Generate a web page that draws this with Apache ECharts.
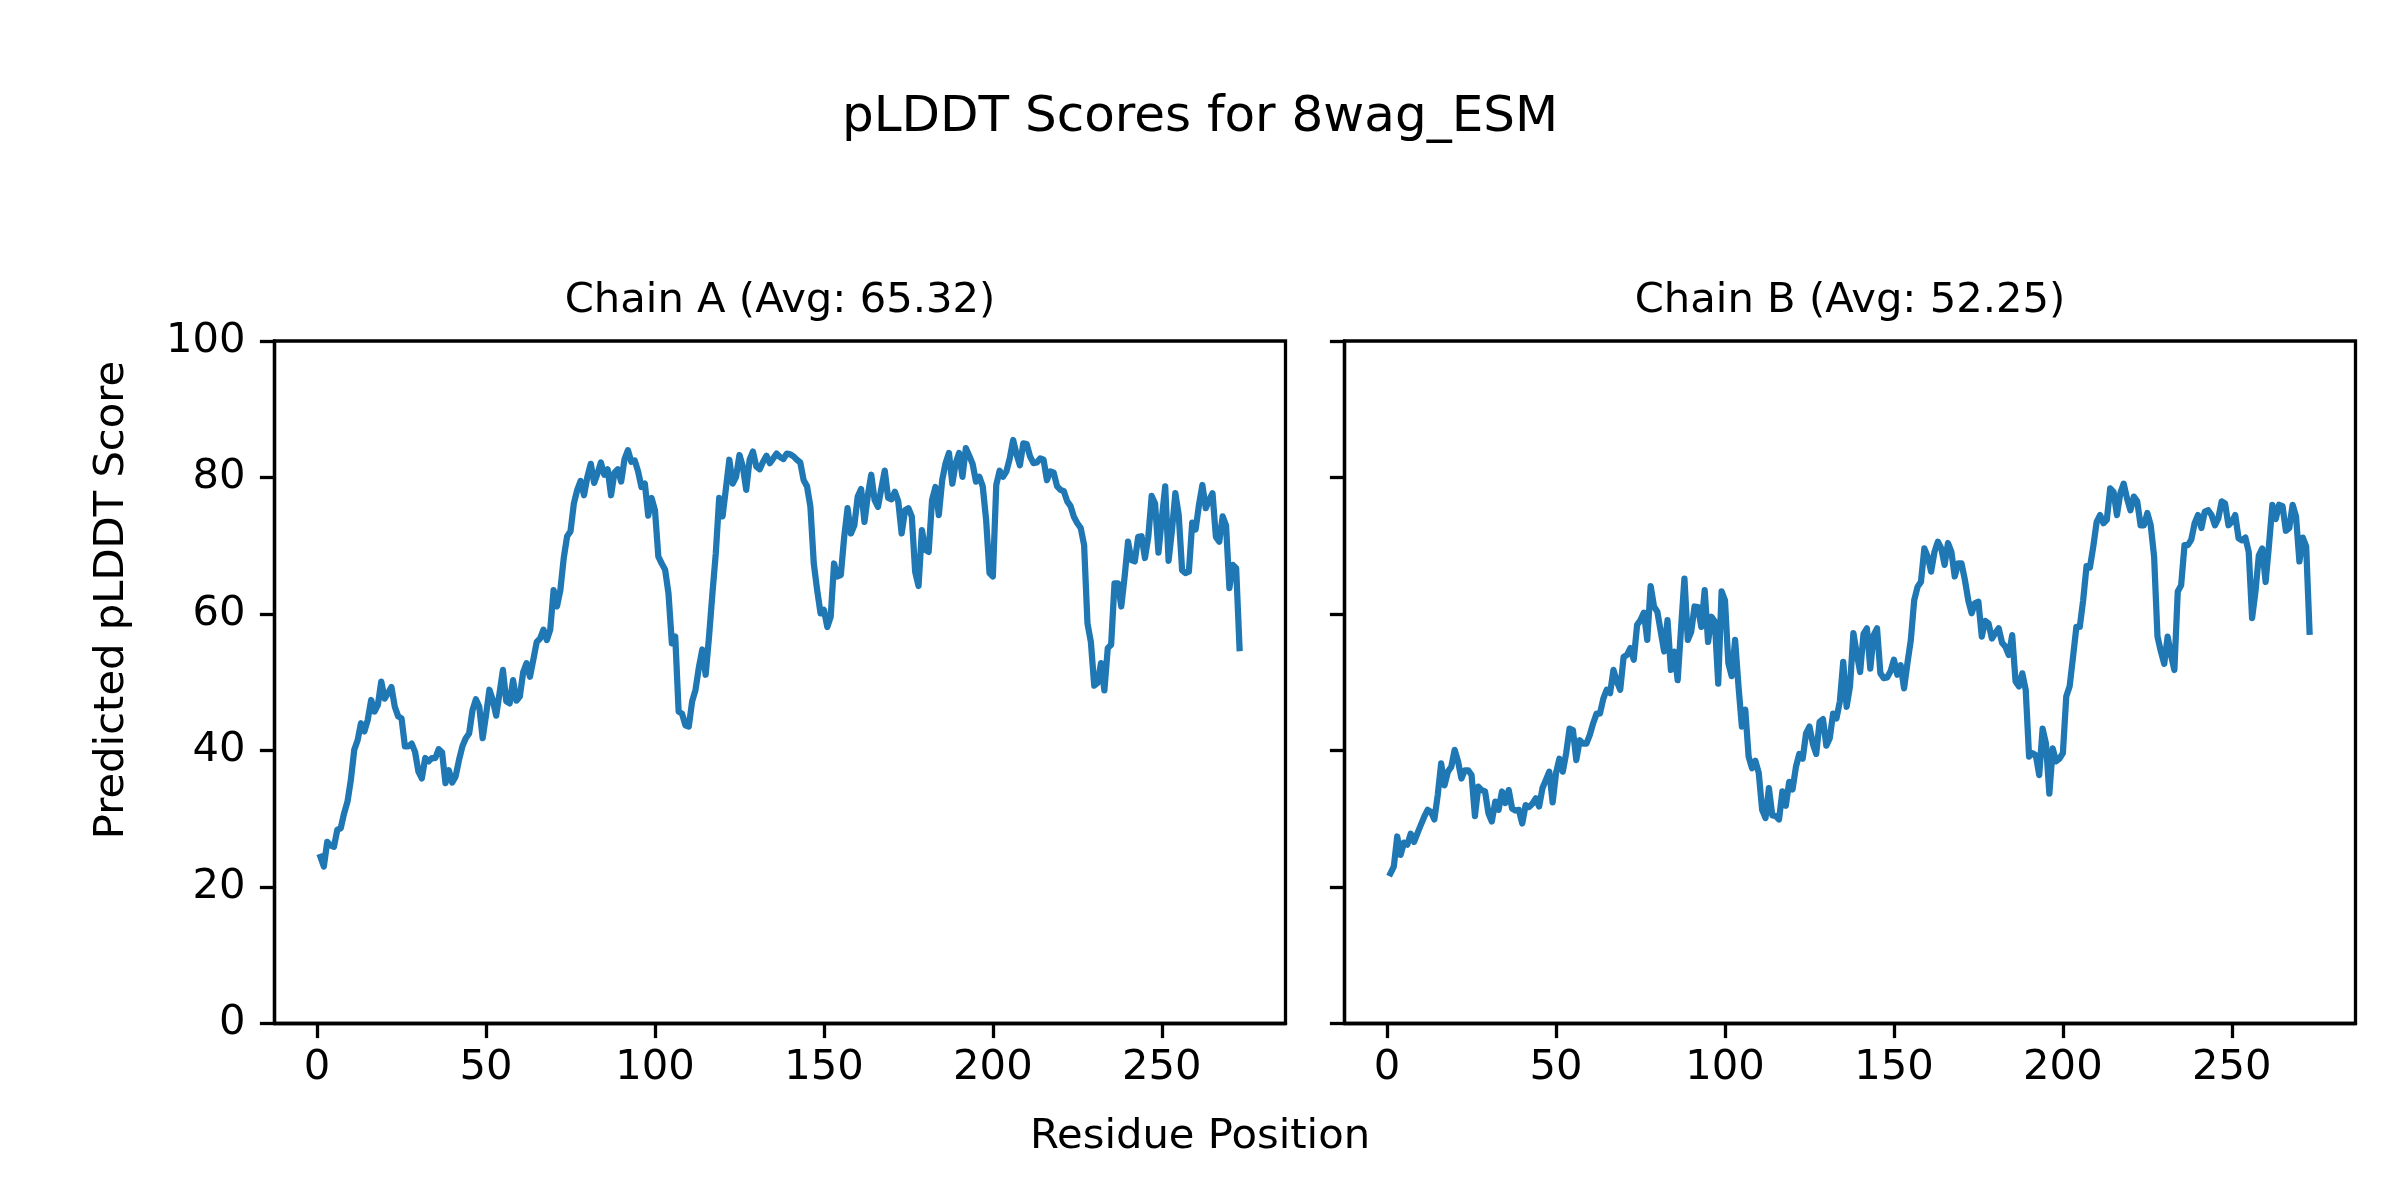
<!DOCTYPE html>
<html><head><meta charset="utf-8">
<script src="https://cdn.jsdelivr.net/npm/echarts@6/dist/echarts.min.js"></script>
<style>html,body{margin:0;padding:0;background:#fff}#chart{width:2400px;height:1200px}</style>
</head><body><div id="chart"></div>
<script>
const mainTitle = 'pLDDT Scores for 8wag_ESM';
const chainATitle = 'Chain A (Avg: 65.32)';
const chainBTitle = 'Chain B (Avg: 52.25)';
const xLabel = 'Residue Position';
const yLabel = 'Predicted pLDDT Score';
const xTickValues = [0, 50, 100, 150, 200, 250];
const yTickValues = [0, 20, 40, 60, 80, 100];

const chainA = [
24.4,23.0,26.6,26.1,25.9,28.4,28.6,30.8,32.5,35.7,
40.1,41.5,44.0,42.8,44.5,47.4,45.7,46.7,50.1,47.6,
48.4,49.3,46.4,45.0,44.7,40.6,40.6,41.0,39.8,36.9,
35.9,38.9,38.4,38.9,38.9,40.2,39.7,35.2,37.1,35.3,
36.2,38.6,40.6,41.8,42.5,45.9,47.5,46.4,41.8,45.2,
48.9,47.4,45.1,48.4,51.8,47.2,46.9,50.3,47.3,47.9,
51.5,52.8,50.8,53.3,55.9,56.4,57.7,56.2,57.7,63.5,
61.1,63.5,68.2,71.4,72.1,76.2,78.2,79.5,77.4,80.1,
82.0,79.2,80.6,82.2,80.4,81.2,77.4,80.7,81.2,79.4,
82.7,84.0,82.3,82.5,80.9,78.6,79.1,74.4,77.0,75.2,
68.4,67.4,66.5,63.0,55.7,56.7,45.7,45.4,43.7,43.5,
47.2,48.9,52.2,54.8,51.1,56.7,63.0,68.9,77.0,74.3,
78.4,82.6,79.1,80.1,83.3,81.6,78.2,82.6,83.8,81.6,
81.2,82.3,83.2,82.1,82.8,83.5,83.0,82.7,83.5,83.4,
83.1,82.6,82.2,79.6,78.7,75.7,67.4,63.5,60.1,60.6,
58.1,59.6,67.4,65.5,65.7,71.3,75.5,71.8,73.0,77.2,
78.3,73.5,77.4,80.4,76.7,75.7,78.4,81.0,77.0,76.8,
77.9,76.5,71.8,75.2,75.5,74.3,66.2,64.1,72.3,69.4,
69.1,76.7,78.6,74.5,79.6,82.1,83.6,79.1,82.1,83.6,
80.1,84.3,83.2,82.0,79.4,80.1,78.7,73.8,66.0,65.5,
78.9,81.0,80.1,80.9,82.8,85.5,83.4,81.8,85.0,84.9,
83.1,82.1,82.2,82.8,82.6,79.6,80.9,80.7,78.7,78.2,
78.0,76.5,75.8,74.2,73.3,72.6,70.1,58.6,55.9,49.5,
49.9,52.8,48.8,55.0,55.5,64.5,64.5,61.1,65.5,70.6,
67.9,67.7,71.3,71.4,68.2,71.3,77.3,76.2,69.0,74.0,
78.7,67.8,72.3,77.7,74.5,66.4,66.0,66.2,73.4,72.4,
76.0,78.9,75.5,76.7,77.7,71.3,70.6,74.3,73.0,63.8,
67.2,66.7,55.0
];

const chainB = [
22.0,23.0,27.4,24.7,26.5,26.2,27.8,26.6,27.9,29.1,
30.3,31.3,31.0,29.9,33.5,38.1,34.9,36.9,37.6,40.1,
38.4,35.9,37.1,37.1,36.4,30.4,34.7,34.2,34.0,30.8,
29.6,32.5,31.3,34.0,32.3,34.2,31.5,31.2,31.3,29.3,
32.0,31.7,32.2,33.0,31.8,34.5,35.7,36.9,32.4,36.7,
38.8,36.9,39.6,43.2,43.0,38.6,41.5,41.0,41.0,42.3,
44.0,45.4,45.4,47.6,48.9,48.4,51.8,50.1,48.9,53.7,
54.0,55.0,53.3,58.4,59.1,60.2,56.2,64.1,61.1,60.3,
57.4,54.5,59.1,51.8,54.5,50.3,57.9,65.2,56.2,57.4,
61.1,61.0,58.1,63.5,55.9,59.6,58.9,49.8,63.3,62.0,
52.8,50.9,56.2,49.4,43.5,46.0,39.1,37.4,38.5,36.7,
31.3,30.1,34.5,30.5,30.4,29.9,34.0,31.9,35.4,34.3,
37.6,39.5,38.8,42.5,43.5,41.0,39.5,44.2,44.6,40.7,
41.8,45.4,44.7,47.2,53.0,46.4,49.4,57.2,54.2,51.5,
57.1,57.9,52.0,56.9,57.9,51.3,50.6,50.7,51.6,53.3,
51.1,52.5,49.1,52.8,56.2,62.0,64.0,64.7,69.6,68.4,
66.2,69.1,70.6,69.6,67.2,70.4,69.1,65.5,67.4,67.4,
65.0,62.0,60.1,61.6,61.8,56.7,59.0,58.6,56.4,57.2,
57.9,55.8,55.2,54.0,56.9,50.1,49.4,51.3,48.9,39.1,
39.6,39.3,36.4,43.2,41.0,33.7,40.3,38.4,38.8,39.6,
47.9,49.4,53.7,58.1,58.1,62.0,67.0,66.8,69.9,73.5,
74.5,73.3,73.8,78.4,77.9,74.5,77.7,79.1,76.9,75.2,
77.2,76.5,73.0,73.0,74.8,73.0,68.4,56.7,54.5,52.7,
56.7,54.0,51.8,63.3,64.2,70.1,70.1,70.9,73.3,74.5,
72.6,75.0,75.2,74.5,73.0,74.0,76.5,76.2,73.0,73.5,
74.5,71.1,70.8,71.2,69.1,59.4,63.3,68.6,69.6,64.7,
70.1,76.0,73.9,76.0,75.8,72.2,72.6,76.0,74.3,67.7,
71.2,69.9,57.4
];

function toPoints(values) {
  return values.map(function (v, i) { return [i + 1, v]; });
}

const FONT = 'DejaVu Sans';
const BLACK = '#000000';
const LINE_COLOR = '#1f77b4';

function makeX(gridIndex) {
  return {
    type: 'value', gridIndex: gridIndex, min: -12.6, max: 286.6,
    splitLine: { show: false },
    axisLine: { show: true, onZero: false, lineStyle: { color: BLACK, width: 3.3 } },
    axisTick: { show: true, length: 14.6, customValues: xTickValues, lineStyle: { color: BLACK, width: 3.3 } },
    axisLabel: { show: true, customValues: xTickValues, margin: 24, color: BLACK, fontFamily: FONT, fontSize: 41.7 }
  };
}
function makeY(gridIndex, showLabels) {
  return {
    type: 'value', gridIndex: gridIndex, min: 0, max: 100, interval: 20,
    splitLine: { show: false },
    axisLine: { show: true, onZero: false, lineStyle: { color: BLACK, width: 3.3 } },
    axisTick: { show: true, length: 14.6, lineStyle: { color: BLACK, width: 3.3 } },
    axisLabel: { show: showLabels, margin: 29, color: BLACK, fontFamily: FONT, fontSize: 41.7,
      customValues: yTickValues }
  };
}

const chart = echarts.init(document.getElementById('chart'), null, { renderer: 'canvas', width: 2400, height: 1200 });
chart.setOption({
  animation: false,
  backgroundColor: '#ffffff',
  grid: [
    { left: 274.5, top: 341, width: 1011, height: 682.5, show: true, borderColor: BLACK, borderWidth: 3.3, containLabel: false },
    { left: 1344.5, top: 341, width: 1011, height: 682.5, show: true, borderColor: BLACK, borderWidth: 3.3, containLabel: false }
  ],
  xAxis: [makeX(0), makeX(1)],
  yAxis: [makeY(0, true), makeY(1, false)],
  series: [
    { type: 'line', xAxisIndex: 0, yAxisIndex: 0, data: toPoints(chainA), showSymbol: false, symbol: 'none',
      lineStyle: { color: LINE_COLOR, width: 6.25, join: 'round', cap: 'square' } },
    { type: 'line', xAxisIndex: 1, yAxisIndex: 1, data: toPoints(chainB), showSymbol: false, symbol: 'none',
      lineStyle: { color: LINE_COLOR, width: 6.25, join: 'round', cap: 'square' } }
  ],
  graphic: [
    { type: 'text', x: 1200, y: 118, style: { text: mainTitle, fill: BLACK, font: '50px "DejaVu Sans"', align: 'center', verticalAlign: 'middle' } },
    { type: 'text', x: 780, y: 301.6, style: { text: chainATitle, fill: BLACK, font: '41.7px "DejaVu Sans"', align: 'center', verticalAlign: 'middle' } },
    { type: 'text', x: 1850, y: 301.6, style: { text: chainBTitle, fill: BLACK, font: '41.7px "DejaVu Sans"', align: 'center', verticalAlign: 'middle' } },
    { type: 'text', x: 1200, y: 1137, style: { text: xLabel, fill: BLACK, font: '41.7px "DejaVu Sans"', align: 'center', verticalAlign: 'middle' } },
    { type: 'text', x: 112, y: 600, rotation: Math.PI / 2, style: { text: yLabel, fill: BLACK, font: '41.7px "DejaVu Sans"', align: 'center', verticalAlign: 'middle' } }
  ]
});
</script>
</body></html>
